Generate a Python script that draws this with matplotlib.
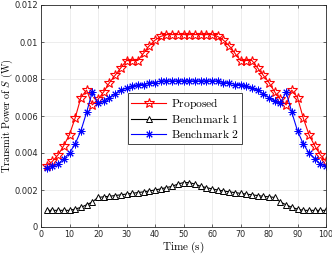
import matplotlib
matplotlib.use("Agg")
import matplotlib.pyplot as plt
import numpy as np

time_s = [2, 4, 6, 8, 10, 12, 14, 16, 18, 20, 22, 24, 26, 28, 30, 32, 34, 36, 38, 40,
          42, 44, 46, 48, 50, 52, 54, 56, 58, 60, 62, 64, 66, 68, 70, 72, 74, 76, 78, 80,
          82, 84, 86, 88, 90, 92, 94, 96, 98, 100]

proposed = [0.0033, 0.00355, 0.0039, 0.0044, 0.0050, 0.0059, 0.0070, 0.0074, 0.0066, 0.0069,
            0.0073, 0.0078, 0.0082, 0.0086, 0.0090, 0.0090, 0.0090, 0.0094, 0.0098, 0.0101,
            0.0103, 0.0104, 0.0104, 0.0104, 0.0104, 0.0104, 0.0104, 0.0104, 0.0104, 0.0104,
            0.0103, 0.0101, 0.0098, 0.0094, 0.0090, 0.0090, 0.0090, 0.0086, 0.0082, 0.0078,
            0.0073, 0.0069, 0.0066, 0.0074, 0.0070, 0.0059, 0.0050, 0.0044, 0.0039, 0.00355]

benchmark1 = [0.0009, 0.0009, 0.0009, 0.0009, 0.0009, 0.00097, 0.00106, 0.0012, 0.00135, 0.0016,
              0.00163, 0.00166, 0.0017, 0.00174, 0.00178, 0.00182, 0.00186, 0.0019, 0.00195, 0.002,
              0.00206, 0.00213, 0.0022, 0.00232, 0.0024, 0.0024, 0.00232, 0.0022, 0.00213, 0.00206,
              0.002, 0.00195, 0.0019, 0.00186, 0.00182, 0.00178, 0.00174, 0.0017, 0.00166, 0.00163,
              0.0016, 0.00135, 0.0012, 0.00106, 0.00097, 0.0009, 0.0009, 0.0009, 0.0009, 0.0009]

benchmark2 = [0.0032, 0.0033, 0.0034, 0.0037, 0.0040, 0.0045, 0.0052, 0.0062, 0.0073, 0.0067,
              0.0068, 0.0070, 0.0072, 0.0074, 0.0075, 0.0076, 0.0077, 0.0077, 0.0078, 0.0078,
              0.0079, 0.0079, 0.0079, 0.0079, 0.0079, 0.0079, 0.0079, 0.0079, 0.0079, 0.0079,
              0.0079, 0.0078, 0.0078, 0.0077, 0.0077, 0.0076, 0.0075, 0.0074, 0.0072, 0.0070,
              0.0068, 0.0067, 0.0073, 0.0062, 0.0052, 0.0045, 0.0040, 0.0037, 0.0034, 0.0033]

x_ticks = [0, 10, 20, 30, 40, 50, 60, 70, 80, 90, 100]
y_ticks = [0, 0.002, 0.004, 0.006, 0.008, 0.01, 0.012]
y_tick_labels = ["0", "0.002", "0.004", "0.006", "0.008", "0.01", "0.012"]

plt.rcParams['mathtext.fontset'] = 'cm'
plt.rcParams['font.family'] = ['DejaVu Sans']

fig = plt.figure(figsize=(3.32, 2.57), dpi=100)
ax = fig.add_axes([41/332, 30/257, 285/332, 222/257])

ax.plot(time_s, proposed, color='#ff0000', lw=0.8, marker='*', ms=7,
        mfc='none', mec='#ff0000', mew=0.8, label=r'$\mathrm{Proposed}$')
ax.plot(time_s, benchmark1, color='black', lw=0.8, marker='^', ms=5,
        mfc='white', mec='black', mew=0.7, label=r'$\mathrm{Benchmark\ 1}$')
ax.plot(time_s, benchmark2, color='#0000ff', lw=0.8, marker=(8, 2, 0), ms=5.5,
        mec='#0000ff', mew=0.7, label=r'$\mathrm{Benchmark\ 2}$')

ax.set_xlim(0, 100)
ax.set_ylim(0, 0.012)
ax.set_xticks(x_ticks)
ax.set_yticks(y_ticks)
ax.set_yticklabels(y_tick_labels)
ax.tick_params(direction='in', length=2.5, width=0.5, labelsize=6, colors='#262626',
               top=True, right=True, pad=2)
ax.tick_params(axis='x', labelsize=5.8)
for s in ax.spines.values():
    s.set_color('#262626')
    s.set_linewidth(0.6)
ax.grid(True, color='#e6e6e6', lw=0.5)
ax.set_axisbelow(True)

ax.set_xlabel(r'$\mathrm{Time\ (s)}$', fontsize=8, labelpad=1)
ax.set_ylabel(r'$\mathrm{Transmit\ Power\ of\ }S\mathrm{\ (W)}$', fontsize=7.3)
ax.yaxis.set_label_coords(-0.092, 0.5)

leg = ax.legend(loc='upper left', bbox_to_anchor=(0.305, 0.604), fontsize=8.3,
                fancybox=False, framealpha=1, edgecolor='#262626', borderpad=0.3,
                handlelength=3.0, handletextpad=0.4, labelspacing=0.15, borderaxespad=0)
leg.get_frame().set_linewidth(0.6)

fig.savefig('out.png', dpi=100)
